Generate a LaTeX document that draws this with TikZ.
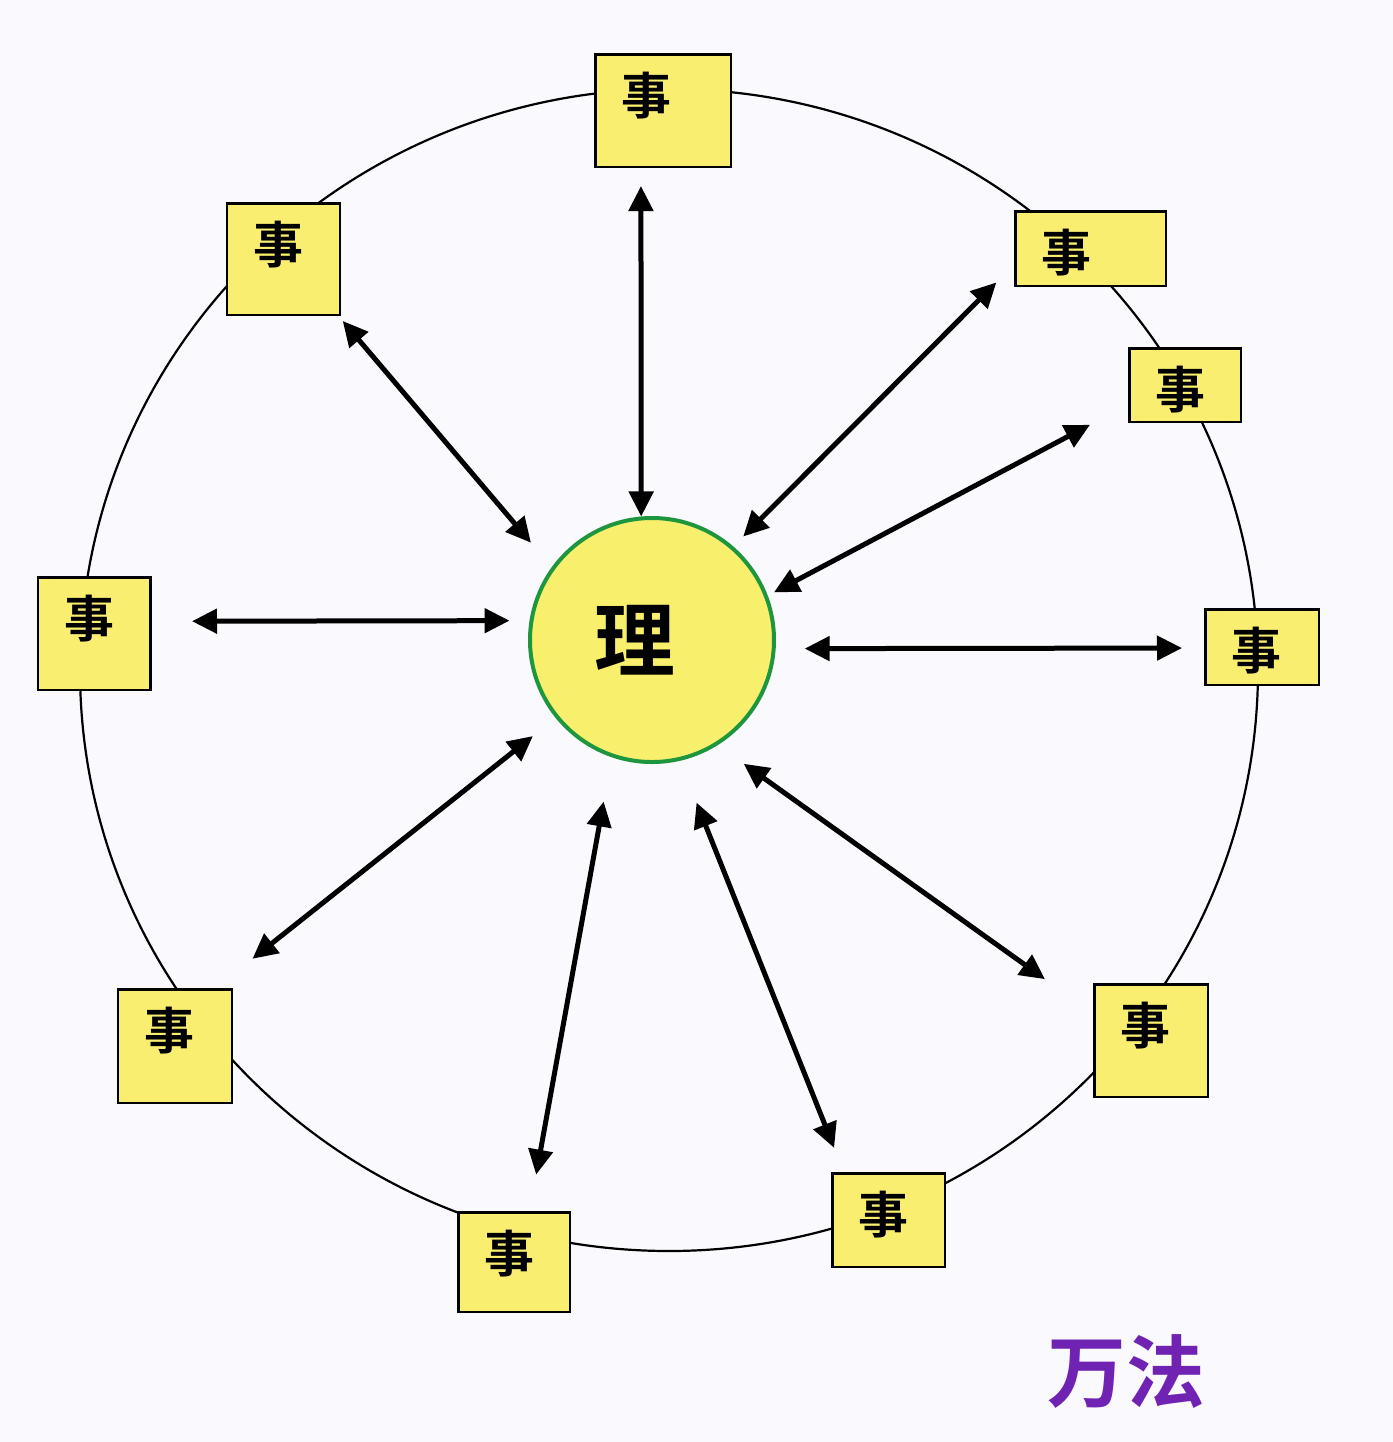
\documentclass[tikz,border=0pt]{standalone}
\usepackage{fontspec}
\newfontfamily\cjkbold{Noto Sans CJK SC Bold}
\usetikzlibrary{arrows.meta}

\definecolor{paper}{RGB}{250,249,254}
\definecolor{shiyellow}{RGB}{250,238,112}
\definecolor{liyellow}{RGB}{248,240,108}
\definecolor{ligreen}{RGB}{30,150,62}
\definecolor{fapurple}{RGB}{112,34,178}

\begin{document}
\begin{tikzpicture}[
  >={Triangle[length=2.5mm, width=2.4mm]},
  rim/.style={draw=black, line width=0.22mm},
  shibase/.style={rectangle, draw=black, line width=0.25mm, fill=shiyellow, anchor=north west, align=left, inner xsep=2.6mm, inner ysep=1mm, text height=5mm, font=\cjkbold\fontsize{14.2pt}{16pt}\selectfont},
  shibox/.style 2 args={shibase, /utils/exec={\pgfmathsetlengthmacro\shiw{#1-5.45mm}\pgfmathsetlengthmacro\shid{#2-7.25mm}}, text width=\shiw, text depth=\shid},
  hubnode/.style={circle, draw=ligreen, line width=0.4mm, fill=liyellow, inner sep=0pt, minimum size=24.4mm, font=\cjkbold\fontsize{23pt}{26pt}\selectfont},
  linkarrow/.style={<->, line width=0.5mm, draw=black},
  wanfa/.style={text=fapurple, font=\cjkbold\fontsize{22.4pt}{25pt}\selectfont}
]

% Page
\fill[paper] (0,0) rectangle (13.93,-14.42);
\useasboundingbox (0,0) rectangle (13.93,-14.42);

% Outer ring
\draw[rim] (6.69,-6.70) ellipse [x radius=5.89, y radius=5.81];

% Centre
\node[hubnode] (hub) at (6.52,-6.40) {理\hspace*{3.4mm}};

% Boxes on the ring
\node[shibox={13.8mm}{11.5mm}] (s1) at (5.94,-0.53) {事};
\node[shibox={11.5mm}{11.4mm}] (s2) at (2.26,-2.02) {事};
\node[shibox={15.3mm}{7.7mm}] (s3) at (10.14,-2.10) {事};
\node[shibox={11.4mm}{7.6mm}] (s4) at (11.28,-3.47) {事};
\node[shibox={11.6mm}{7.8mm}] (s5) at (12.04,-6.08) {事};
\node[shibox={11.5mm}{11.5mm}] (s6) at (0.37,-5.76) {事};
\node[shibox={11.6mm}{11.6mm}] (s7) at (1.17,-9.88) {事};
\node[shibox={11.4mm}{10.2mm}] (s8) at (4.57,-12.11) {事};
\node[shibox={11.5mm}{9.6mm}] (s9) at (8.31,-11.72) {事};
\node[shibox={11.6mm}{11.5mm}] (s10) at (10.93,-9.83) {事};

% Links
\draw[linkarrow, shorten <=1.8mm] (s1.249.1) -- (hub.95.1);
\draw[linkarrow, shorten <=0.65mm, shorten >=3.2mm] (s2.314.1) -- (hub.144.1);
\draw[linkarrow, shorten <=2.5mm, shorten >=1.4mm] (s3.192.2) -- (hub.49.6);
\draw[linkarrow, shorten <=4.3mm, shorten >=0.7mm] (s4.199.3) -- (hub.21.1);
\draw[linkarrow, shorten <=2.2mm, shorten >=2.9mm] (s5.181.5) -- (hub.356.1);
\draw[linkarrow, shorten <=4mm, shorten >=2mm] (s6.12.3) -- (hub.171.2);
\draw[linkarrow, shorten <=4.7mm, shorten >=2.9mm] (s7.55.9) -- (hub.219.0);
\draw[linkarrow, shorten <=3.7mm, shorten >=4.5mm] (s8.73.2) -- (hub.251.2);
\draw[linkarrow, shorten <=2.6mm, shorten >=4.5mm] (s9.133.8) -- (hub.283.4);
\draw[linkarrow, shorten <=5.9mm, shorten >=3.2mm] (s10.155.9) -- (hub.302.0);

% Title
\node[wanfa] (title) at (11.26,-13.72) {万法};

\end{tikzpicture}
\end{document}
